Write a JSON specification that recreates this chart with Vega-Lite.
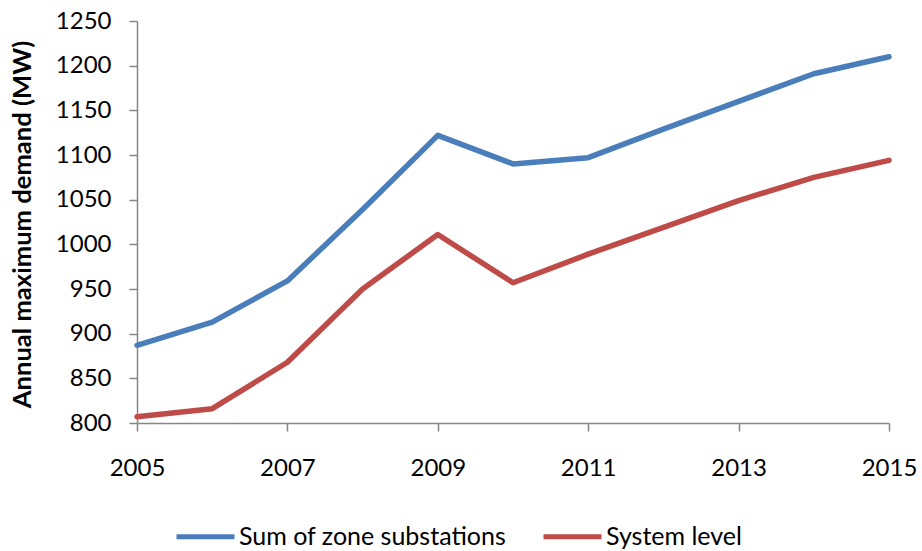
{
  "$schema": "https://vega.github.io/schema/vega-lite/v6.json",
  "width": 752,
  "height": 402,
  "autosize": {"type": "none"},
  "padding": {"left": 137, "top": 21, "right": 33, "bottom": 128},
  "background": "white",
  "config": {
    "view": {"stroke": null},
    "font": "Lato",
    "axis": {
      "grid": false,
      "domainColor": "#868686",
      "tickColor": "#868686",
      "domainWidth": 1.5,
      "tickWidth": 1.5,
      "labelColor": "#000000",
      "labelFont": "Lato",
      "labelFontSize": 24,
      "titleColor": "#000000",
      "titleFont": "Lato"
    }
  },
  "data": {
    "values": [
      {"year": 2005, "mw": 887, "series": "Sum of zone substations"},
      {"year": 2006, "mw": 913, "series": "Sum of zone substations"},
      {"year": 2007, "mw": 959, "series": "Sum of zone substations"},
      {"year": 2008, "mw": 1039, "series": "Sum of zone substations"},
      {"year": 2009, "mw": 1122, "series": "Sum of zone substations"},
      {"year": 2010, "mw": 1090, "series": "Sum of zone substations"},
      {"year": 2011, "mw": 1097, "series": "Sum of zone substations"},
      {"year": 2012, "mw": 1129, "series": "Sum of zone substations"},
      {"year": 2013, "mw": 1160, "series": "Sum of zone substations"},
      {"year": 2014, "mw": 1191, "series": "Sum of zone substations"},
      {"year": 2015, "mw": 1210, "series": "Sum of zone substations"},
      {"year": 2005, "mw": 807, "series": "System level"},
      {"year": 2006, "mw": 816, "series": "System level"},
      {"year": 2007, "mw": 868, "series": "System level"},
      {"year": 2008, "mw": 950, "series": "System level"},
      {"year": 2009, "mw": 1011, "series": "System level"},
      {"year": 2010, "mw": 957, "series": "System level"},
      {"year": 2011, "mw": 989, "series": "System level"},
      {"year": 2012, "mw": 1019, "series": "System level"},
      {"year": 2013, "mw": 1049, "series": "System level"},
      {"year": 2014, "mw": 1075, "series": "System level"},
      {"year": 2015, "mw": 1094, "series": "System level"}
    ]
  },
  "mark": {"type": "line", "strokeWidth": 5.5, "strokeCap": "round", "strokeJoin": "round"},
  "encoding": {
    "x": {
      "field": "year",
      "type": "quantitative",
      "scale": {"domain": [2005, 2015], "nice": false, "zero": false},
      "axis": {
        "values": [2005, 2007, 2009, 2011, 2013, 2015],
        "format": "d",
        "title": null,
        "tickSize": 8,
        "labelPadding": 25,
        "labelFlush": false
      }
    },
    "y": {
      "field": "mw",
      "type": "quantitative",
      "scale": {"domain": [800, 1250], "nice": false, "zero": false},
      "axis": {
        "values": [800, 850, 900, 950, 1000, 1050, 1100, 1150, 1200, 1250],
        "format": "d",
        "title": "Annual maximum demand (MW)",
        "titleFontSize": 25.6,
        "titleFontWeight": "bold",
        "titleX": -115,
        "titleY": 203,
        "titleBaseline": "middle",
        "tickSize": 8,
        "labelPadding": 18
      }
    },
    "color": {
      "field": "series",
      "type": "nominal",
      "scale": {
        "domain": ["Sum of zone substations", "System level"],
        "range": ["#4A7EBB", "#BE4B48"]
      },
      "legend": {
        "orient": "none",
        "legendX": 37,
        "legendY": 484,
        "direction": "horizontal",
        "title": null,
        "symbolType": "stroke",
        "symbolSize": 3364,
        "symbolStrokeWidth": 5,
        "labelFontSize": 25,
        "labelFont": "Lato",
        "labelColor": "#000000",
        "labelOffset": 2,
        "labelLimit": 500,
        "columnPadding": 26,
        "padding": 0
      }
    }
  }
}
